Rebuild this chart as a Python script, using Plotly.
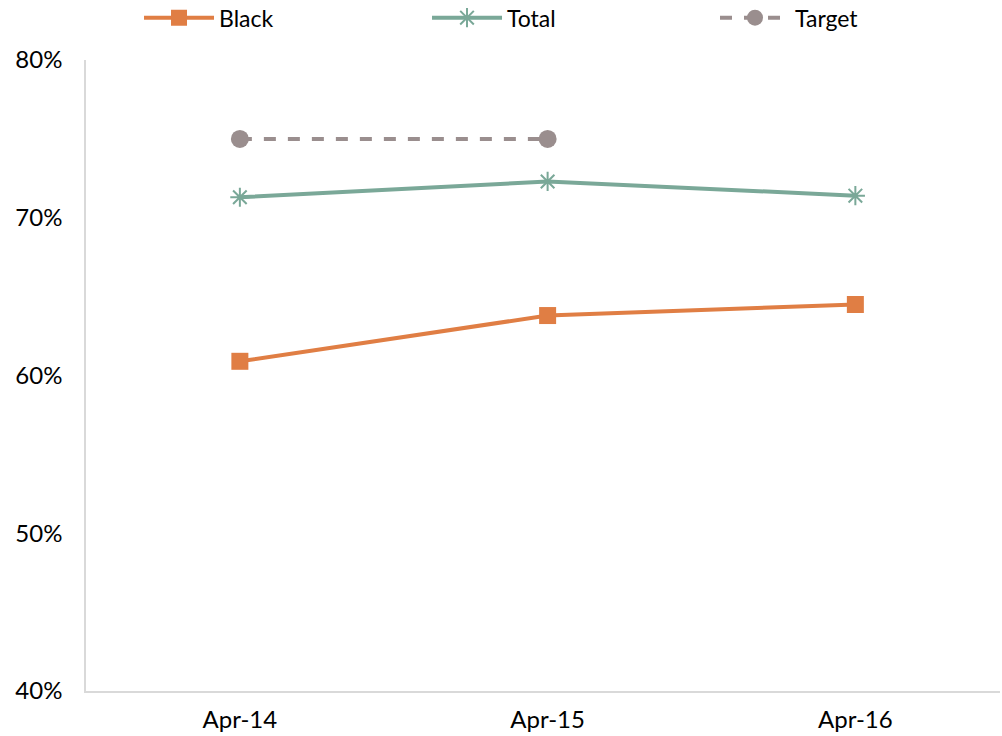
import plotly.graph_objects as go

categories = ["Apr-14", "Apr-15", "Apr-16"]
black = [0.609, 0.638, 0.645]
total = [0.713, 0.723, 0.714]
target = [0.75, 0.75, None]

font_family = "Lato, 'DejaVu Sans', sans-serif"

fig = go.Figure()
fig.add_trace(go.Scatter(x=categories, y=black, name="Black", mode="lines+markers",
                         line=dict(color="#E07E44", width=4),
                         marker=dict(symbol="square", size=17, color="#E07E44")))
fig.add_trace(go.Scatter(x=categories, y=total, name="Total", mode="lines+markers",
                         line=dict(color="#7AA898", width=4),
                         marker=dict(symbol="asterisk-open", size=16,
                                     line=dict(color="#7AA898", width=2))))
fig.add_trace(go.Scatter(x=categories, y=target, name="Target", mode="lines+markers",
                         line=dict(color="#9A8E8E", width=4, dash="dash"),
                         marker=dict(symbol="circle", size=18, color="#9A8E8E"),
                         connectgaps=False))

fig.update_layout(
    width=1002, height=736,
    margin=dict(l=86, r=2, t=60, b=45, autoexpand=False),
    paper_bgcolor="white", plot_bgcolor="white",
    font=dict(family=font_family, size=24, color="black"),
    showlegend=True,
    legend=dict(orientation="h", x=0.058, xanchor="left", y=1.067, yanchor="middle",
                entrywidth=203, entrywidthmode="pixels", font=dict(size=23),
                itemwidth=70, bgcolor="rgba(0,0,0,0)"),
    xaxis=dict(type="category", range=[-0.5, 2.47], showgrid=False, showline=True,
               linecolor="#D9D9D9", linewidth=1.5, ticks="", tickfont=dict(size=24),
               ticklabelstandoff=6, automargin=False),
    yaxis=dict(range=[0.4, 0.8], dtick=0.1, tickformat=".0%", showgrid=False,
               showline=True, linecolor="#D9D9D9", linewidth=1.5, zeroline=False,
               ticks="", ticklabelstandoff=17, tickfont=dict(size=24),
               automargin=False),
)

fig.write_html("out.html", config={"displayModeBar": False},
               post_script="document.body.style.margin='0';document.body.style.overflow='hidden';")
